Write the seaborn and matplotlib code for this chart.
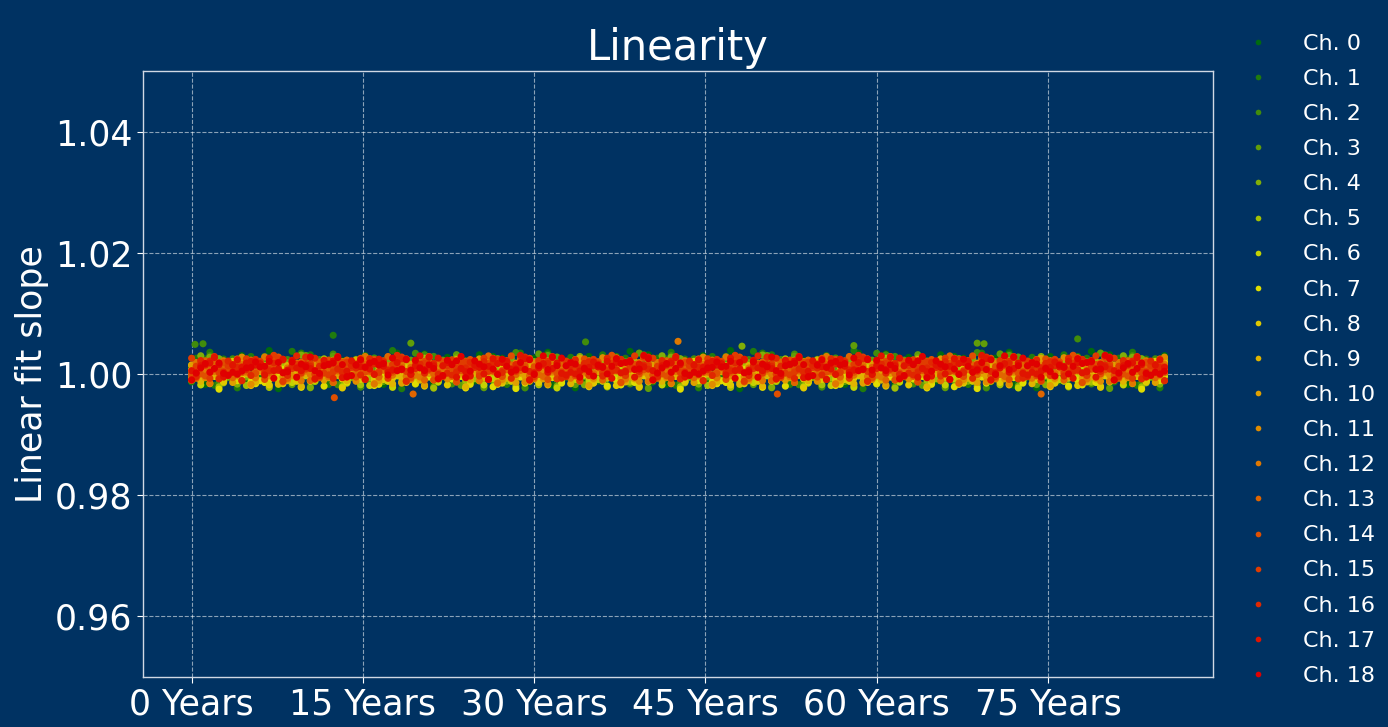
import matplotlib.pyplot as plt
import matplotlib.colors as mcolors
import seaborn as sns
import pandas as pd
import numpy as np

# --- data ------------------------------------------------------------------
channels = [f"Ch. {i}" for i in range(19)]
year_ticks = [0, 15, 30, 45, 60, 75]
tick_labels = [f"{y} Years" for y in year_ticks]

# sample times (years) - one measurement every 0.4 year, 0 .. ~85.2
years = np.arange(0, 85.3, 0.4)

# per-channel centre of the band (slope - 1, in units of 1e-3)
offsets = [0.8, 0.8, 0.7, 0.6, 0.5, 0.2, 0.0, -0.2, 0.0, 0.2,
           0.4, 0.6, 0.7, 0.8, 0.9, 1.0, 1.0, 1.1, 1.1]
# per-channel scatter (1e-3)
spreads = [1.4, 1.4, 1.3, 1.3, 1.2, 1.1, 1.0, 1.0, 1.0, 1.0,
           1.0, 1.0, 1.0, 1.0, 1.0, 0.95, 0.95, 0.9, 0.9]

# typed scatter pattern (normalised deviations), reused along the time axis
pattern = [0.3, -1.2, 0.8, 1.5, -0.4, 0.1, -2.1, 0.9, -0.7, 1.1,
           0.2, -0.3, 1.9, -1.5, 0.6, -0.1, 0.4, -0.9, 2.2, -0.6,
           1.3, -1.8, 0.0, 0.7, -0.5, 1.6, -1.1, 0.5, -0.2, 1.0,
           -1.4, 0.9, -2.3, 0.3, 1.2, -0.8, 0.1, 1.7, -0.4, -1.0,
           0.6, 2.0, -1.6, 0.2, -0.6, 1.4, -0.1, 0.8, -1.9, 0.4,
           1.1, -0.3, -1.3, 0.7, 1.8, -0.7, 0.0, -2.0, 1.5, 0.3,
           -0.9, 0.5, 1.2, -1.2, 0.9, -0.5, 2.1, -0.2, -1.7, 0.6,
           0.2, -1.0, 1.3, -0.4, 0.8, -1.5, 0.1, 1.6, -0.8, -0.1,
           1.9, -1.1, 0.4, -2.2, 0.7, 1.0, -0.6, 0.3, -1.4, 1.4,
           -0.3, 0.9, -1.8, 0.5, 1.7, -0.9, 0.0, -1.3, 1.1, 0.6, -0.2]

# a few stray points seen outside the band: (channel, year, slope)
outliers = [(2, 0.3, 1.0049), (2, 1.0, 1.0050), (1, 12.4, 1.0064),
            (14, 12.5, 0.9961), (3, 19.2, 1.0051), (13, 19.4, 0.9967),
            (2, 34.5, 1.0053), (12, 42.6, 1.0054), (14, 51.3, 0.9967),
            (3, 68.8, 1.0051), (3, 69.4, 1.0050), (2, 77.6, 1.0058),
            (13, 74.4, 0.9967), (3, 58.0, 1.0047), (4, 48.2, 1.0046)]

# --- build long table --------------------------------------------------------
rows = []
n = len(pattern)
for c, name in enumerate(channels):
    idx = (np.arange(len(years)) * 7 + c * 13) % n
    dev = np.array(pattern)[idx]
    slope = 1 + (offsets[c] + spreads[c] * dev) * 1e-3
    rows.append(pd.DataFrame({"year": years, "slope": slope, "channel": name}))
for c, yr, s in outliers:
    rows.append(pd.DataFrame({"year": [yr], "slope": [s], "channel": [channels[c]]}))
df = pd.concat(rows, ignore_index=True)

# green -> yellow -> red channel colours
cmap = mcolors.LinearSegmentedColormap.from_list(
    "gyr", [(0.0, "#006a10"), (0.38, "#e0e000"), (1.0, "#e00000")])
palette = [cmap(i / 18) for i in range(19)]

bg = "#003262"
fg = "white"
sns.set_style("whitegrid")
plt.rcParams["font.family"] = ["DejaVu Sans"]

fig = plt.figure(figsize=(13.88, 7.27), dpi=100, facecolor=bg)
ax = fig.add_axes([0.103, 0.069, 0.771, 0.833])
ax.set_facecolor(bg)

sns.scatterplot(data=df, x="year", y="slope", hue="channel", hue_order=channels,
                palette=palette, s=26, linewidth=0, ax=ax)

ax.set_ylim(0.95, 1.05)
ax.set_yticks([0.96, 0.98, 1.00, 1.02, 1.04])
ax.set_xticks(year_ticks)
ax.set_xticklabels(tick_labels)
ax.tick_params(colors=fg, labelsize=25, length=4, direction="out",
               bottom=True, left=True)
ax.grid(True, color="white", linestyle="--", linewidth=0.8, alpha=0.55)
for sp in ax.spines.values():
    sp.set_color("#d0d8e4")
    sp.set_linewidth(1.0)

ax.set_title("Linearity", color=fg, fontsize=30, pad=8)
ax.set_ylabel("Linear fit slope", color=fg, fontsize=25)
ax.set_xlabel("")

leg = ax.legend(loc="upper left", bbox_to_anchor=(0.876, 0.981),
                bbox_transform=fig.transFigure, frameon=False, fontsize=16,
                labelspacing=0.68, markerscale=0.8, handletextpad=1.0)
for t in leg.get_texts():
    t.set_color(fg)

fig.savefig("out.png", dpi=100, facecolor=bg)
